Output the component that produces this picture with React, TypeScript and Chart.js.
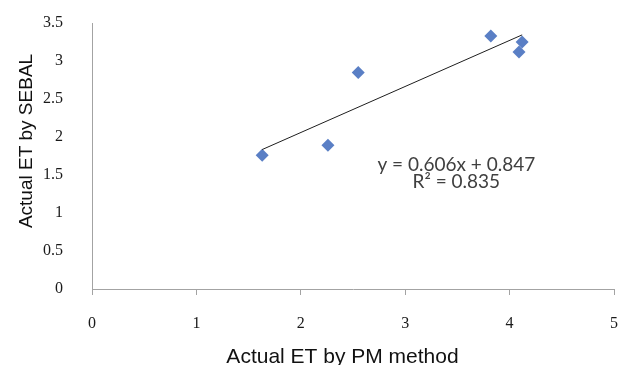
import React, { useEffect, useRef } from "react";
import { Chart, registerables } from "chart.js";

Chart.register(...registerables);

// ---- data ----
const pmET = [1.63, 2.26, 2.55, 3.82, 4.09, 4.12];
const sebalET = [1.76, 1.89, 2.85, 3.33, 3.12, 3.25];
const trendSlope = 0.606;
const trendIntercept = 0.847;
const rSquared = 0.835;
const xTickValues = [0, 1, 2, 3, 4, 5];
const yTickValues = [0, 0.5, 1, 1.5, 2, 2.5, 3, 3.5];
const xTitle = "Actual ET by PM method";
const yTitle = "Actual ET by SEBAL";
const equationLines = [`y = ${trendSlope}x + ${trendIntercept}`, `R² = ${rSquared}`];

const AXIS_GRAY = "#a3a3a3";
const MARKER = "#5a7fc5";

export default function App() {
  const canvasRef = useRef<HTMLCanvasElement | null>(null);

  useEffect(() => {
    document.body.style.margin = "0";
    const canvas = canvasRef.current;
    if (!canvas) return;

    const xMin = Math.min(...pmET);
    const xMax = Math.max(...pmET);
    const trend = [xMin, xMax].map((x) => ({ x, y: trendSlope * x + trendIntercept }));
    const points = pmET.map((x, i) => ({ x, y: sebalET[i] }));

    const labelsPlugin = {
      id: "textLabels",
      afterDatasetsDraw(chart: any) {
        const { ctx, scales, chartArea } = chart;
        // regression equation
        const cx = scales.x.getPixelForValue(3.49);
        const y1 = scales.y.getPixelForValue(1.63);
        const y2 = scales.y.getPixelForValue(1.41);
        ctx.save();
        ctx.fillStyle = "#404040";
        ctx.font = "19px Lato";
        ctx.textAlign = "center";
        ctx.textBaseline = "middle";
        ctx.fillText(equationLines[0], cx, y1);
        ctx.fillText(equationLines[1], cx, y2);
        ctx.restore();

        // axis titles
        ctx.save();
        ctx.fillStyle = "#111";
        ctx.textAlign = "center";
        ctx.textBaseline = "alphabetic";
        ctx.font = "21px 'Liberation Sans', Arial, sans-serif";
        ctx.fillText(xTitle, chartArea.left + 250.5, chartArea.bottom + 74);
        ctx.font = "19px 'Liberation Sans', Arial, sans-serif";
        ctx.translate(chartArea.left - 60, chartArea.top + 118);
        ctx.rotate(-Math.PI / 2);
        ctx.fillText(yTitle, 0, 0);
        ctx.restore();
      },
    };

    const chart = new Chart(canvas, {
      type: "scatter",
      data: {
        datasets: [
          {
            type: "line",
            label: "Trend",
            data: trend,
            borderColor: "#1e1e1e",
            borderWidth: 1,
            pointRadius: 0,
            fill: false,
          } as any,
          {
            label: "ET",
            data: points,
            pointStyle: "rectRot",
            pointRadius: 6.5,
            backgroundColor: MARKER,
            borderColor: MARKER,
            borderWidth: 0,
          },
        ],
      },
      options: {
        animation: false,
        responsive: false,
        devicePixelRatio: 1,
        layout: { padding: { left: 0, right: 7, top: 23, bottom: 0 } },
        plugins: {
          legend: { display: false },
          tooltip: { enabled: false },
        },
        scales: {
          x: {
            type: "linear",
            min: 0,
            max: 5,
            afterFit: (s: any) => {
              s.height = 76;
              s.paddingLeft = 0;
              s.paddingRight = 0;
            },
            afterBuildTicks: (s: any) => {
              s.ticks = xTickValues.map((v) => ({ value: v }));
            },
            ticks: {
              padding: 19,
              color: "#1a1a1a",
              font: { family: "'Liberation Serif', serif", size: 16 },
              callback: (v: any) => String(v),
            },
            grid: {
              display: true,
              drawOnChartArea: false,
              drawTicks: true,
              tickLength: 6,
              color: AXIS_GRAY,
            },
            border: { display: true, color: AXIS_GRAY, width: 1 },
            title: { display: false },
          },
          y: {
            type: "linear",
            min: 0,
            max: 3.5,
            afterFit: (s: any) => {
              s.width = 92;
              s.paddingTop = 0;
              s.paddingBottom = 0;
            },
            afterBuildTicks: (s: any) => {
              s.ticks = yTickValues.map((v) => ({ value: v }));
            },
            ticks: {
              padding: 29,
              color: "#1a1a1a",
              font: { family: "'Liberation Serif', serif", size: 16 },
              callback: (v: any) => String(v),
            },
            grid: { display: false, drawTicks: false },
            border: { display: true, color: AXIS_GRAY, width: 1 },
            title: { display: false },
          },
        },
      },
      plugins: [labelsPlugin],
    });

    return () => chart.destroy();
  }, []);

  return (
    <div style={{ position: "absolute", left: 0, top: 0, width: 621, height: 365, background: "#fff" }}>
      <canvas ref={canvasRef} width={621} height={365} />
    </div>
  );
}
